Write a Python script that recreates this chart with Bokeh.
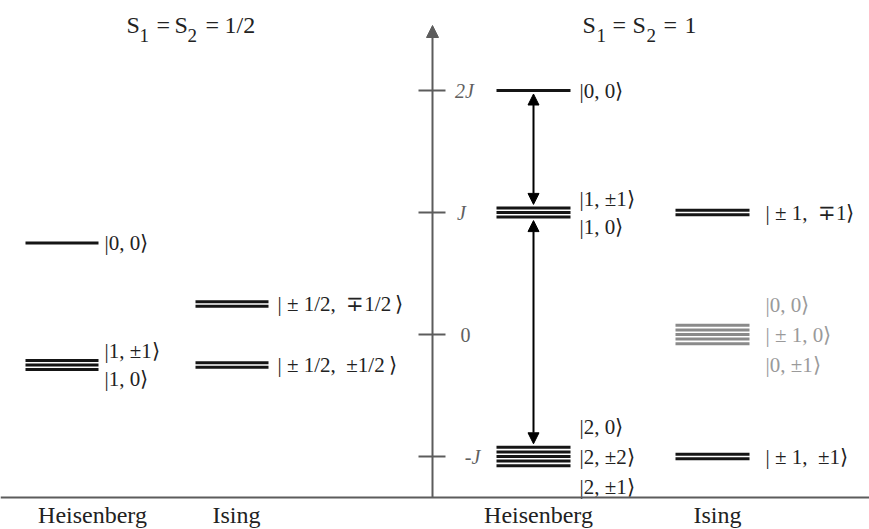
from bokeh.plotting import figure
from bokeh.models import Range1d, Arrow, NormalHead, ColumnDataSource
from bokeh.embed import file_html
from bokeh.resources import INLINE
from bokeh.core.properties import value

# ---------------- data (energies in units of J) ----------------
half_heis_energy = [0.75, -0.25]
half_heis_degeneracy = [1, 3]
half_heis_labels = [["|0, 0⟩"], ["|1, ±1⟩", "|1, 0⟩"]]

half_ising_energy = [0.25, -0.25]
half_ising_degeneracy = [2, 2]
half_ising_labels = [["| ± 1/2,  ∓1/2 ⟩"], ["| ± 1/2,  ±1/2 ⟩"]]

one_heis_energy = [2, 1, -1]
one_heis_degeneracy = [1, 3, 5]
one_heis_labels = [["|0, 0⟩"], ["|1, ±1⟩", "|1, 0⟩"], ["|2, 0⟩", "|2, ±2⟩", "|2, ±1⟩"]]

one_ising_energy = [1, 0, -1]
one_ising_degeneracy = [2, 5, 2]
one_ising_labels = [["| ± 1,  ∓1⟩"], ["|0, 0⟩", "| ± 1, 0⟩", "|0, ±1⟩"], ["| ± 1,  ±1⟩"]]

axis_ticks = [2, 1, 0, -1]
axis_tick_labels = ["2J", "J", "0", "-J"]

column_names = ["Heisenberg", "Ising", "Heisenberg", "Ising"]
transitions = [(2, 1), (1, -1)]

title_half = ["S", "1", "=", "S", "2", "=", "1/2"]
title_one = ["S", "1", "=", "S", "2", "=", "1"]

# ---------------- layout / style ----------------
W, H = 869, 529
PX_PER_J = 122.0
ZERO_Y = 334.0          # pixel row of E = 0
def E_of(ypix):
    return (ZERO_Y - ypix) / PX_PER_J
J_PER_PX = 1.0 / PX_PER_J

FONT = "Liberation Serif"
BLACK = "#151515"
GRAY_LINE = "#8a8a8a"
GRAY_TEXT = "#9a9a9a"
AXIS = "#5c5c5c"
PITCH = 4.6             # px between stacked degenerate lines
LW = 3

p = figure(width=W, height=H, output_backend="svg", toolbar_location=None,
           x_range=Range1d(0, W), y_range=Range1d(E_of(H), E_of(0)),
           min_border=0, outline_line_color=None)
p.axis.visible = False
p.grid.visible = False
p.background_fill_color = "white"
p.border_fill_color = "white"

columns = [
    dict(E=half_heis_energy, deg=half_heis_degeneracy, lab=half_heis_labels, x0=25, x1=98, lx=104, gray=[]),
    dict(E=half_ising_energy, deg=half_ising_degeneracy, lab=half_ising_labels, x0=195, x1=268, lx=277, gray=[]),
    dict(E=one_heis_energy, deg=one_heis_degeneracy, lab=one_heis_labels, x0=496, x1=570, lx=579, gray=[]),
    dict(E=one_ising_energy, deg=one_ising_degeneracy, lab=one_ising_labels, x0=675, x1=749, lx=765, gray=[0]),
]
column_centers = [92, 236, 538, 717]
AXIS_X = 432

seg = dict(x0=[], x1=[], y0=[], y1=[], c=[])
txt = dict(x=[], y=[], t=[], yo=[], c=[])
for col in columns:
    for E, n, labs in zip(col["E"], col["deg"], col["lab"]):
        gray = E in col["gray"]
        for k in range(n):
            y = E + (k - (n - 1) / 2) * PITCH * J_PER_PX
            seg["x0"].append(col["x0"]); seg["x1"].append(col["x1"])
            seg["y0"].append(y); seg["y1"].append(y)
            seg["c"].append(GRAY_LINE if gray else BLACK)
        m = len(labs)
        offs = {1: [0], 2: [-14, 14], 3: [-30, 0, 30]}[m]
        for t, o in zip(labs, offs):
            t = t.replace("  ", "\u00a0\u00a0").replace(" ⟩", "\u2009⟩")
            txt["x"].append(col["lx"]); txt["y"].append(E)
            txt["t"].append(t); txt["yo"].append(o)
            txt["c"].append(GRAY_TEXT if gray else "#222222")

p.segment(x0="x0", x1="x1", y0="y0", y1="y1", line_color="c", line_width=LW,
          source=ColumnDataSource(seg))
p.text(x="x", y="y", text="t", y_offset="yo", text_color="c",
       text_font=value(FONT), text_font_size="21px", text_baseline="middle",
       text_align="left", source=ColumnDataSource(txt))

# energy axis
E_floor = E_of(497)
E_top = E_of(25)
p.segment(x0=[0], x1=[W], y0=[E_floor], y1=[E_floor], line_color=AXIS, line_width=2)
p.add_layout(Arrow(x_start=AXIS_X, y_start=E_floor, x_end=AXIS_X, y_end=E_top,
                   line_color=AXIS, line_width=2,
                   end=NormalHead(size=12, fill_color=AXIS, line_color=AXIS, line_width=1)))
p.segment(x0=[418] * len(axis_ticks), x1=[445] * len(axis_ticks),
          y0=axis_ticks, y1=axis_ticks, line_color=AXIS, line_width=2)
tick_src = ColumnDataSource(dict(
    x=[464] * len(axis_ticks), y=axis_ticks, t=axis_tick_labels,
    xo=[0, -3, 1, 8],
    st=["normal" if lab.isdigit() else "italic" for lab in axis_tick_labels]))
p.text(x="x", y="y", text="t", x_offset="xo", text_font_style="st", source=tick_src,
       text_color="#606060", text_font=value(FONT),
       text_font_size="20px", text_baseline="middle", text_align="center")

# transitions (Heisenberg S=1)
heis_deg = dict(zip(one_heis_energy, one_heis_degeneracy))
AX = 533
for Ea, Eb in transitions:
    ha = (heis_deg[Ea] - 1) / 2 * PITCH + LW / 2 + 2
    hb = (heis_deg[Eb] - 1) / 2 * PITCH + LW / 2 + 2
    p.add_layout(Arrow(x_start=AX, y_start=Ea - ha * J_PER_PX, x_end=AX, y_end=Eb + hb * J_PER_PX,
                       line_color="black", line_width=2,
                       start=NormalHead(size=11, fill_color="black", line_color="black", line_width=1),
                       end=NormalHead(size=11, fill_color="black", line_color="black", line_width=1)))

# titles with subscripts (token offsets in px from the title's left edge)
TOKEN_SUB = [False, True, False, False, True, False, False]
def draw_title(xl, tokens, dxs):
    for t, dx, sub in zip(tokens, dxs, TOKEN_SUB):
        p.text(x=[xl], y=[E_of(35 if sub else 24.5)], text=[t], x_offset=dx,
               text_font=value(FONT), text_font_size="19px" if sub else "24px",
               text_color="#222222", text_baseline="middle", text_align="left")
draw_title(126, title_half, [0, 13, 30, 48, 61, 79, 98])
draw_title(582, title_one, [0, 14, 30, 50, 64, 81, 102])

# column names
p.text(x=column_centers, y=[E_of(514)] * 4, text=column_names,
       text_font=value(FONT), text_font_size="24px", text_color="#222222",
       text_baseline="middle", text_align="center")

open("out.html", "w").write(file_html(p, INLINE))
